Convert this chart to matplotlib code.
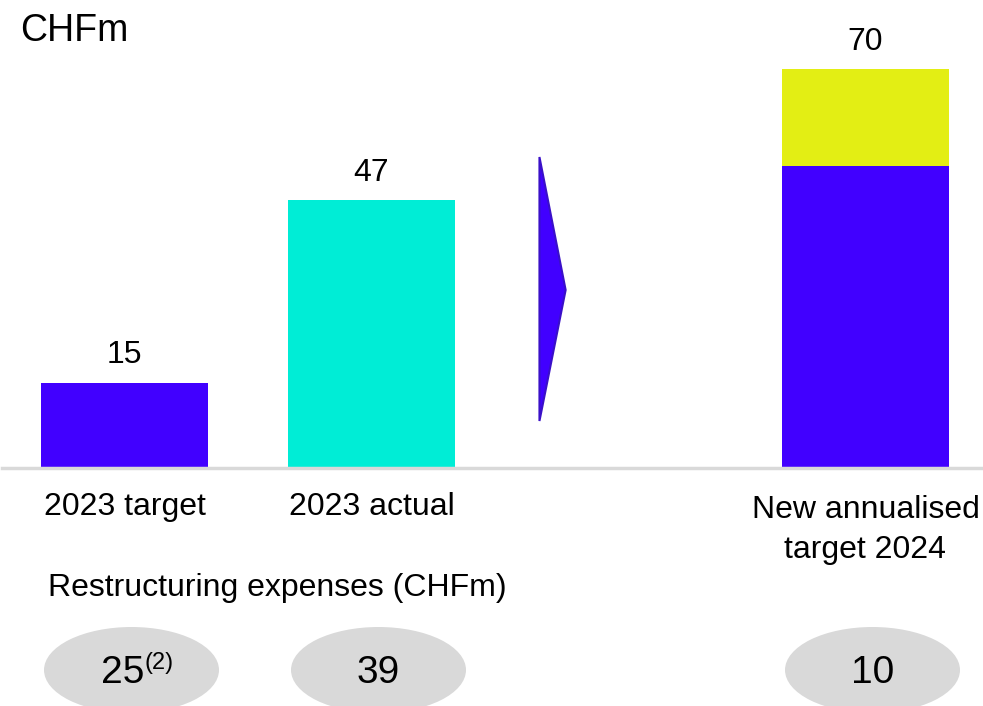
import matplotlib.pyplot as plt
import matplotlib.transforms as mtransforms
from matplotlib.patches import Ellipse, Polygon

plt.rcParams['font.family'] = ['Liberation Sans', 'DejaVu Sans']

# Savings (CHFm)
categories = ["2023 target", "2023 actual", "New annualised\ntarget 2024"]
positions = [0, 1, 3]
base_values = [15, 47, 53]
top_values = [0, 0, 17]
totals = [15, 47, 70]
base_colors = ["#4100FF", "#00EDD6", "#4100FF"]
top_color = "#E3EE14"

# Restructuring expenses (CHFm)
restructuring = ["25", "39", "10"]
restructuring_notes = ["(2)", "", ""]

W, H = 983, 706
fig = plt.figure(figsize=(W / 100, H / 100), dpi=100)

# axes: x unit = 247 px, bar 0 centred at 124.5 px; baseline at 468 px
px_per_unit = 247
x0 = -124.5 / px_per_unit
x1 = (W - 124.5) / px_per_unit
base_y = (H - 468) / H
ymax = 468 / 5.7
ax = fig.add_axes([0, base_y, 1, 1 - base_y])
ax.set_xlim(x0, x1)
ax.set_ylim(0, ymax)
ax.axis("off")

bar_w = 167 / px_per_unit
ax.bar(positions, base_values, width=bar_w, color=base_colors, linewidth=0)
ax.bar(positions, top_values, bottom=base_values, width=bar_w, color=top_color, linewidth=0)
ax.axhline(0, xmin=0.002, xmax=1, color="#D9D9D9", lw=2.5, clip_on=False)

for x, v in zip(positions, totals):
    ax.annotate(str(v), (x, v), xytext=(0, 9), textcoords="offset points",
                ha="center", va="bottom", fontsize=23)

# chevron between actual and target
py = ymax / 468
chev = Polygon([(1.680, (468 - 157) * py), (1.786, (468 - 290) * py),
                (1.680, (468 - 421) * py)], closed=True,
               facecolor="#4100FF", edgecolor="#3A10C8", lw=1.5)
ax.add_patch(chev)

ax.text(20 / W, 1 - 31 / H, "CHFm", transform=fig.transFigure,
        ha="left", va="center", fontsize=27)

# lower part: x in data units, y in figure fraction
blend = mtransforms.blended_transform_factory(ax.transData, fig.transFigure)

for x, lab in zip(positions, categories):
    if "\n" in lab:
        ax.text(x, 1 - 530 / H, lab, transform=blend, ha="center", va="center",
                fontsize=23, linespacing=1.43)
    else:
        ax.text(x, 1 - 507 / H, lab, transform=blend, ha="center", va="center", fontsize=23)

ax.text(277 / px_per_unit + x0, 1 - 588 / H, "Restructuring expenses (CHFm)",
        transform=blend, ha="center", va="center", fontsize=23)

ell_dx = 7 / px_per_unit
for x, val, note in zip(positions, restructuring, restructuring_notes):
    e = Ellipse((x + ell_dx, 1 - 670 / H), 175 / px_per_unit, 86 / H,
                transform=blend, facecolor="#D9D9D9", edgecolor="none", clip_on=False)
    ax.add_patch(e)
    if note:
        ax.text(x + 20 / px_per_unit, 1 - 673 / H, val, transform=blend,
                ha="right", va="center", fontsize=28)
        ax.text(x + 20 / px_per_unit, 1 - 663 / H, note, transform=blend,
                ha="left", va="center", fontsize=17)
    else:
        ax.text(x + ell_dx, 1 - 673 / H, val, transform=blend,
                ha="center", va="center", fontsize=28)

fig.savefig("out.png", dpi=100)
